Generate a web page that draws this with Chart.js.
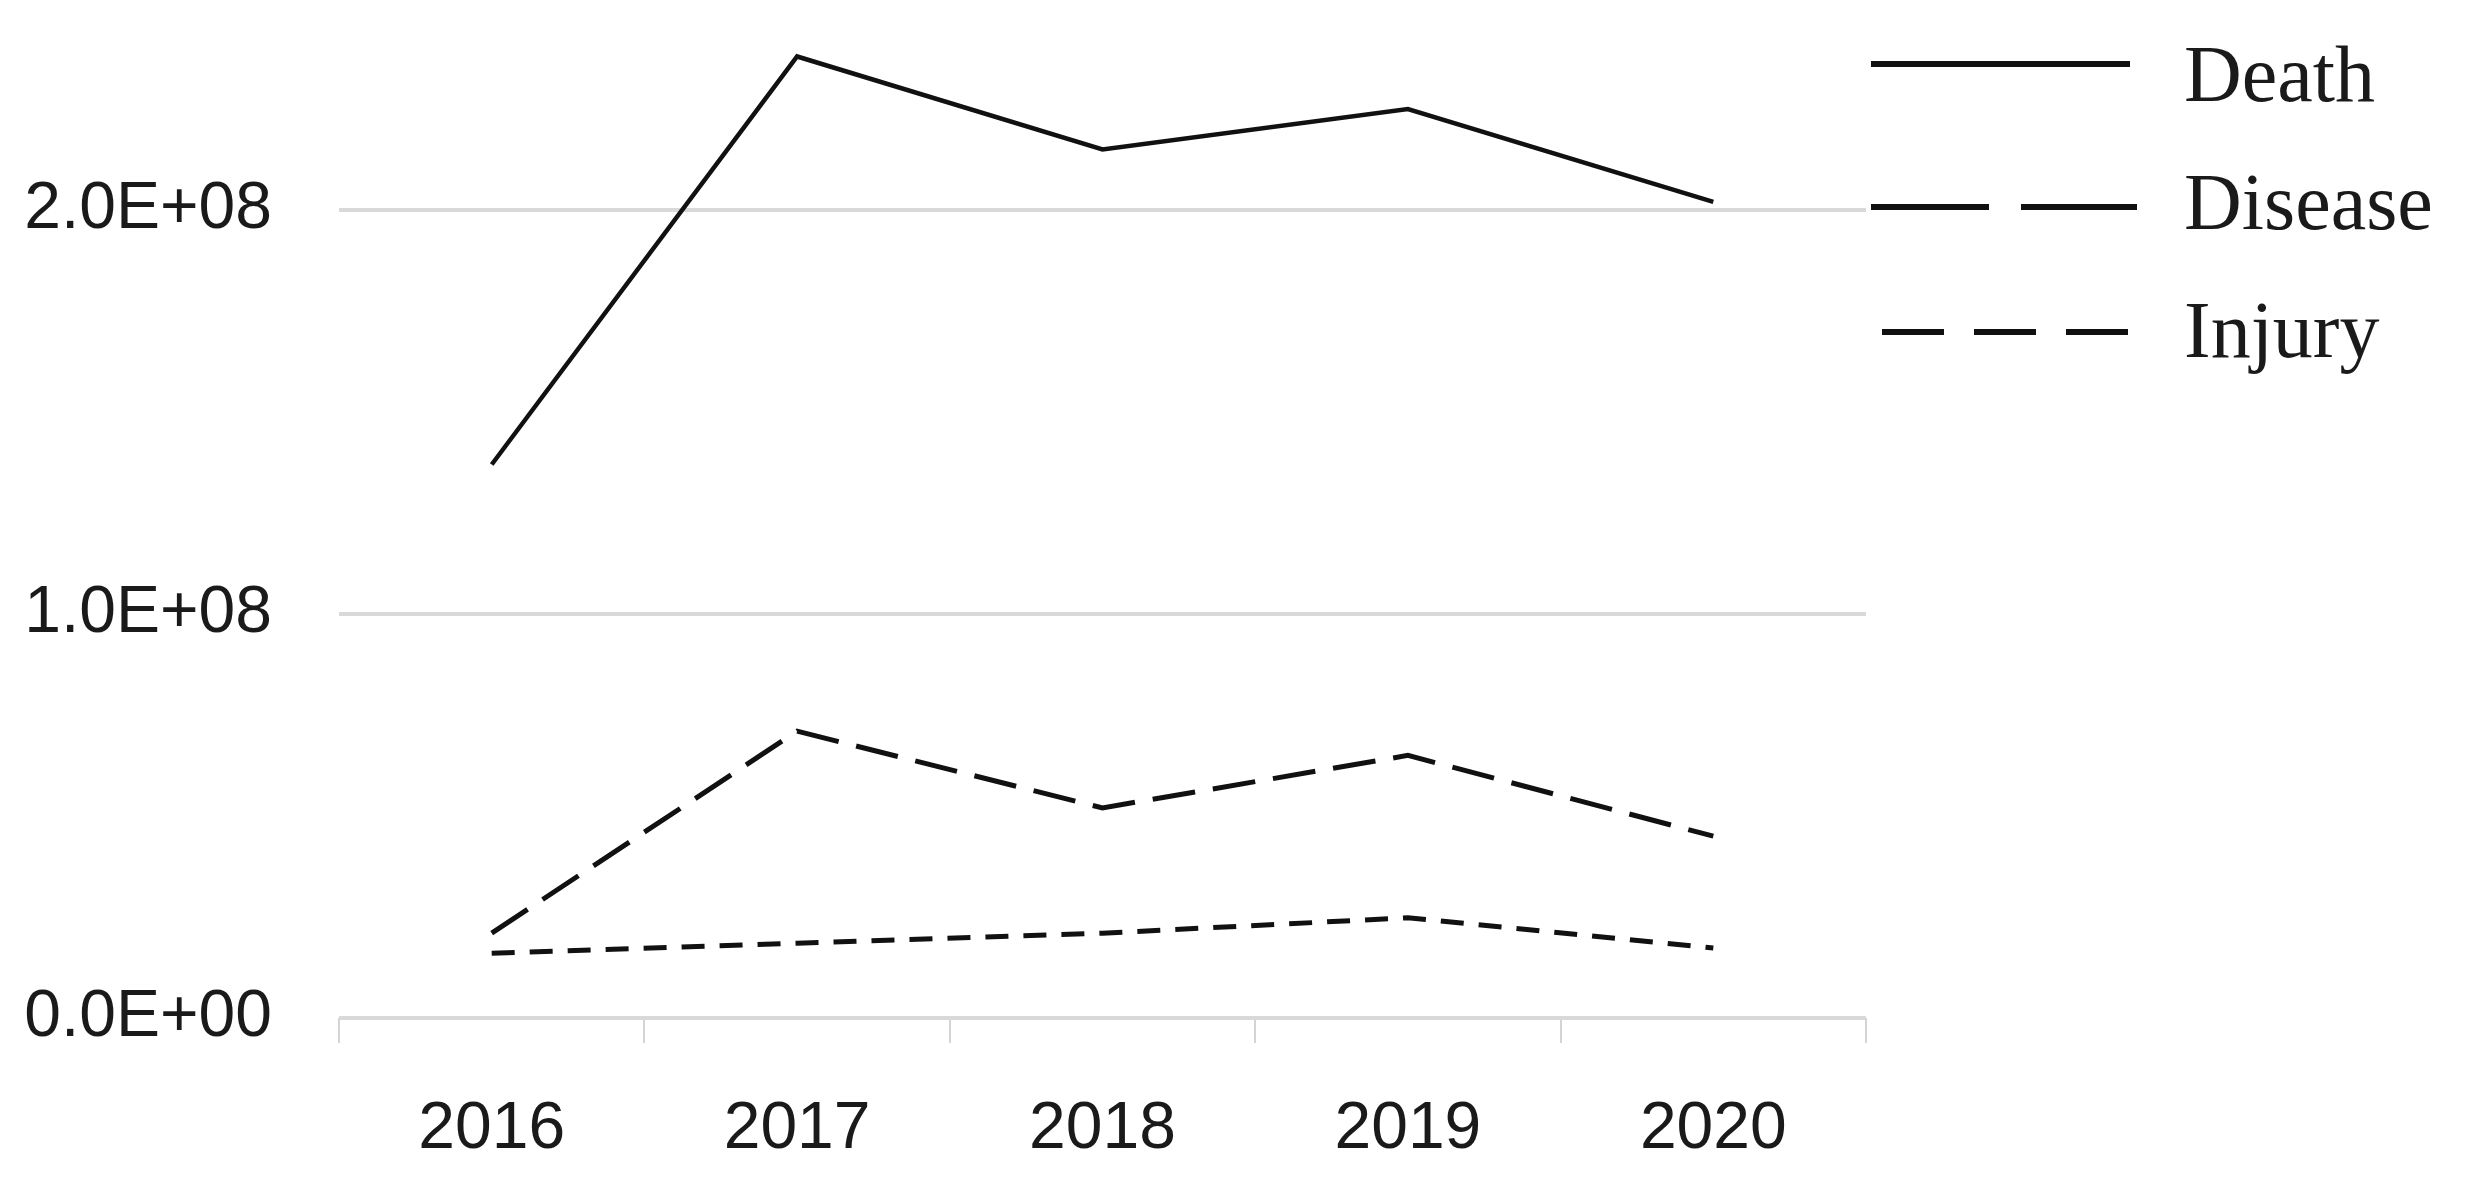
<!DOCTYPE html>
<html>
<head>
<meta charset="utf-8">
<script src="https://cdn.jsdelivr.net/npm/chart.js@4"></script>
<style>
  html, body { margin: 0; padding: 0; background: #ffffff; }
  #wrap { width: 2473px; height: 1204px; position: relative; }
</style>
</head>
<body>
<div id="wrap"><canvas id="lossChart" width="2473" height="1204"></canvas></div>
<script>
// Data
const years = ['2016', '2017', '2018', '2019', '2020'];
const deathValues = [137000000, 238000000, 215000000, 225000000, 202000000];
const diseaseValues = [21000000, 71000000, 52000000, 65000000, 45000000];
const injuryValues = [16000000, 18500000, 21000000, 24800000, 17300000];
const yTickValues = [0, 100000000, 200000000];

// Format like 2.0E+08
function sciLabel(v) {
    if (v === 0) return '0.0E+00';
    const exp = Math.floor(Math.log10(Math.abs(v)));
    const mant = (v / Math.pow(10, exp)).toFixed(1);
    const sign = exp < 0 ? '-' : '+';
    return mant + 'E' + sign + String(Math.abs(exp)).padStart(2, '0');
}

// Legend drawn by hand (the picture's legend uses its own dash lengths)
const sideLegend = {
    id: 'sideLegend',
    afterDraw(chart) {
        const ctx = chart.ctx;
        const rows = [
            { lineY: 64, textY: 101, x0: 1871, x1: 2130, dash: [] },
            { lineY: 207, textY: 229, x0: 1871, x1: 2137, dash: [118, 32] },
            { lineY: 332, textY: 357, x0: 1882, x1: 2130, dash: [62, 30] }
        ];
        ctx.save();
        chart.data.datasets.forEach((ds, i) => {
            const r = rows[i];
            ctx.beginPath();
            ctx.setLineDash(r.dash);
            ctx.lineWidth = 6;
            ctx.strokeStyle = '#111111';
            ctx.moveTo(r.x0, r.lineY);
            ctx.lineTo(r.x1, r.lineY);
            ctx.stroke();
            ctx.setLineDash([]);
            ctx.fillStyle = '#1a1a1a';
            ctx.font = '80px "Liberation Serif", "Times New Roman", serif';
            ctx.textBaseline = 'alphabetic';
            ctx.textAlign = 'left';
            ctx.fillText(ds.label, 2184, r.textY);
        });
        ctx.restore();
    }
};

const ctx = document.getElementById('lossChart').getContext('2d');
new Chart(ctx, {
    type: 'line',
    data: {
        labels: years,
        datasets: [
            {
                label: 'Death',
                data: deathValues,
                borderColor: '#111111',
                borderWidth: 4.5,
                pointRadius: 0,
                tension: 0
            },
            {
                label: 'Disease',
                data: diseaseValues,
                borderColor: '#111111',
                borderWidth: 5,
                borderDash: [43, 18],
                pointRadius: 0,
                tension: 0
            },
            {
                label: 'Injury',
                data: injuryValues,
                borderColor: '#111111',
                borderWidth: 5,
                borderDash: [23, 15],
                pointRadius: 0,
                tension: 0
            }
        ]
    },
    options: {
        responsive: false,
        animation: false,
        layout: {
            padding: { top: 8, right: 607, bottom: 0, left: 0 }
        },
        plugins: {
            legend: { display: false },
            tooltip: { enabled: false }
        },
        scales: {
            x: {
                offset: true,
                border: { display: false },
                grid: {
                    offset: true,
                    drawOnChartArea: false,
                    drawTicks: true,
                    tickLength: 25,
                    color: '#d4d4d4',
                    lineWidth: 2
                },
                ticks: {
                    color: '#1a1a1a',
                    padding: 47,
                    maxRotation: 0,
                    font: { family: '"Liberation Sans", Arial, sans-serif', size: 66 }
                },
                afterFit(scale) { scale.height = 186; }
            },
            y: {
                min: 0,
                max: 250000000,
                border: { display: false },
                grid: {
                    drawTicks: false,
                    color: '#d9d9d9',
                    lineWidth: 4
                },
                ticks: {
                    color: '#1a1a1a',
                    padding: 67,
                    callback: v => sciLabel(v),
                    font: { family: '"Liberation Sans", Arial, sans-serif', size: 66 }
                },
                afterBuildTicks(scale) {
                    scale.ticks = yTickValues.map(v => ({ value: v }));
                },
                afterFit(scale) {
                    scale.width = 339;
                    // tick padding would otherwise push the plot top down
                    scale.paddingTop = 0;
                    scale.paddingBottom = 0;
                }
            }
        }
    },
    plugins: [sideLegend]
});
</script>
</body>
</html>
